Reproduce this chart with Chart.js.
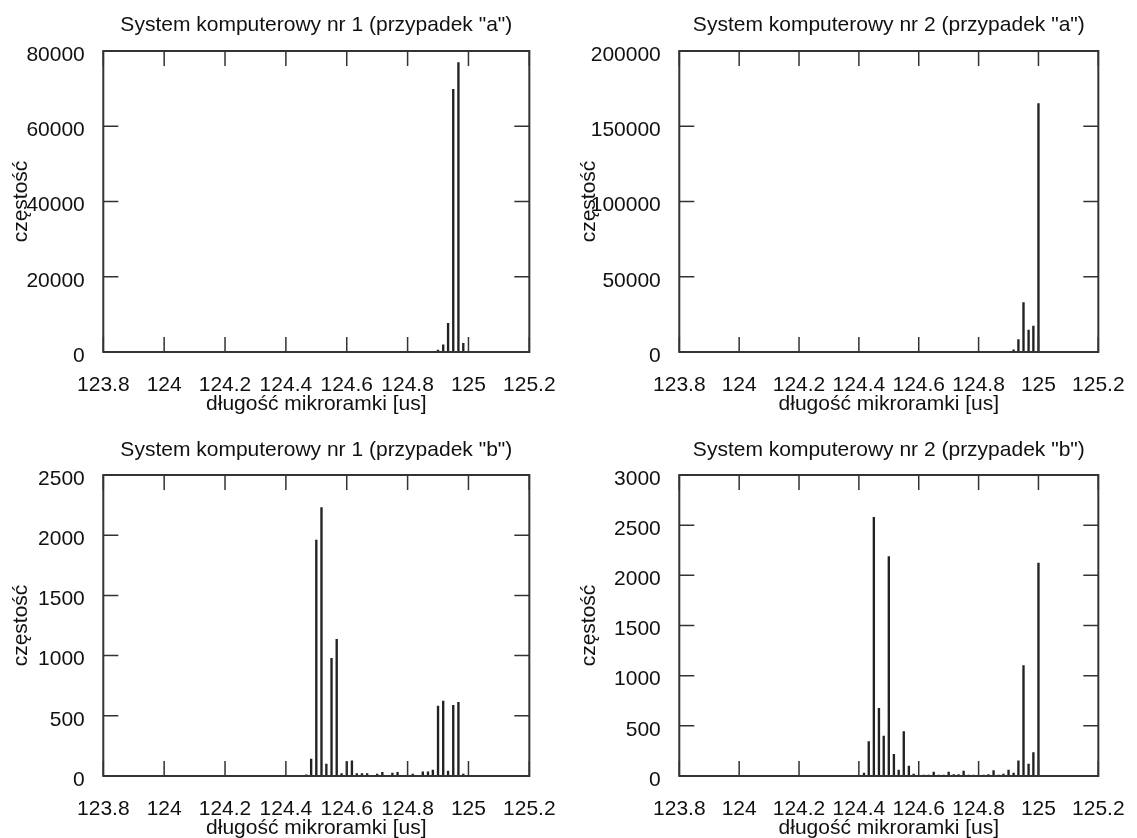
<!DOCTYPE html>
<html><head><meta charset="utf-8">
<script src="https://cdn.jsdelivr.net/npm/chart.js@4/dist/chart.umd.min.js"></script>
<style>
html,body{margin:0;padding:0;background:#fff;}
body{width:1137px;height:838px;position:relative;overflow:hidden;}
.c{position:absolute;}
</style></head><body>
<div class="c" style="left:0;top:0"><canvas id="c1" width="568" height="419"></canvas></div>
<div class="c" style="left:568px;top:0"><canvas id="c2" width="569" height="419"></canvas></div>
<div class="c" style="left:0;top:419px"><canvas id="c3" width="568" height="425"></canvas></div>
<div class="c" style="left:568px;top:419px"><canvas id="c4" width="569" height="425"></canvas></div>
<script>
// ---- data ----
const xTickValues = [123.8, 124, 124.2, 124.4, 124.6, 124.8, 125, 125.2];
const xTickLabels = ['123.8', '124', '124.2', '124.4', '124.6', '124.8', '125', '125.2'];
const xLabel = 'długość mikroramki [us]';
const yLabel = 'częstość';

const title1 = 'System komputerowy nr 1 (przypadek "a")';
const x1 = [124.9, 124.917, 124.933, 124.95, 124.967, 124.983];
const y1 = [500, 1900, 7600, 69800, 76900, 2300];
const yTicks1 = [0, 20000, 40000, 60000, 80000];

const title2 = 'System komputerowy nr 2 (przypadek "a")';
const x2 = [124.917, 124.933, 124.95, 124.967, 124.983, 125.0];
const y2 = [1500, 8300, 32800, 14600, 17300, 165000];
const yTicks2 = [0, 50000, 100000, 150000, 200000];

const title3 = 'System komputerowy nr 1 (przypadek "b")';
const x3 = [124.467, 124.483, 124.5, 124.517, 124.533, 124.55, 124.567, 124.583, 124.6, 124.617,
            124.633, 124.65, 124.667, 124.7, 124.717, 124.75, 124.767, 124.817, 124.85, 124.867,
            124.883, 124.9, 124.917, 124.933, 124.95, 124.967, 124.983];
const y3 = [10, 140, 1960, 2230, 100, 977, 1135, 20, 120, 127,
            20, 20, 20, 15, 30, 25, 30, 15, 35, 35,
            50, 581, 623, 40, 587, 612, 15];
const yTicks3 = [0, 500, 1000, 1500, 2000, 2500];

const title4 = 'System komputerowy nr 2 (przypadek "b")';
const x4 = [124.417, 124.433, 124.45, 124.467, 124.483, 124.5, 124.517, 124.533, 124.55, 124.567,
            124.583, 124.617, 124.633, 124.65, 124.667, 124.683, 124.7, 124.717, 124.733, 124.75,
            124.767, 124.783, 124.817, 124.833, 124.85, 124.867, 124.883, 124.9, 124.917, 124.933,
            124.95, 124.967, 124.983, 125.0];
const y4 = [30, 342, 2578, 675, 399, 2186, 216, 60, 442, 100,
            20, 10, 10, 40, 10, 10, 40, 15, 15, 50,
            10, 10, 10, 15, 55, 10, 20, 60, 30, 150,
            1100, 120, 233, 2123];
const yTicks4 = [0, 500, 1000, 1500, 2000, 2500, 3000];

// ---- rendering ----
const FAMILY = '"Liberation Sans", Arial, Helvetica, sans-serif';
const FONT = {family: FAMILY, size: 21, weight: 'normal', lineHeight: 1.2};
const TXT = '#111';
const TICK_LEN = 15;

const framePlugin = {
  id: 'gnuframe',
  afterDatasetsDraw(chart) {
    const {ctx, chartArea: a, scales} = chart;
    const xs = scales.x, ys = scales.y;
    ctx.save();
    ctx.strokeStyle = '#333';
    ctx.lineWidth = 1.5;
    ctx.beginPath();
    xs.ticks.forEach(t => {
      const p = xs.getPixelForValue(t.value);
      ctx.moveTo(p, a.bottom); ctx.lineTo(p, a.bottom - TICK_LEN);
      ctx.moveTo(p, a.top); ctx.lineTo(p, a.top + TICK_LEN);
    });
    ys.ticks.forEach(t => {
      const p = ys.getPixelForValue(t.value);
      ctx.moveTo(a.left, p); ctx.lineTo(a.left + TICK_LEN, p);
      ctx.moveTo(a.right, p); ctx.lineTo(a.right - TICK_LEN, p);
    });
    ctx.stroke();
    ctx.lineWidth = 2;
    ctx.strokeRect(a.left, a.top, a.right - a.left, a.bottom - a.top);
    ctx.restore();
  }
};

function makeChart(id, title, xs, ys, yTicks, lay) {
  const pts = xs.map((x, i) => ({x: x, y: ys[i]}));
  const xmin = xTickValues[0], xmax = xTickValues[xTickValues.length - 1];
  return new Chart(document.getElementById(id), {
    type: 'bar',
    data: {datasets: [{data: pts, xAxisID: 'x', yAxisID: 'y', backgroundColor: '#222', borderWidth: 0, barThickness: 1.7, grouped: false}]},
    options: {
      responsive: false, animation: false, devicePixelRatio: 1,
      layout: {padding: 0},
      plugins: {legend: {display: false}, tooltip: {enabled: false}, title: {display: false}},
      scales: {
        x: {
          type: 'linear', position: 'bottom', min: xmin, max: xmax, offset: false,
          grid: {display: false, offset: false}, border: {display: false},
          afterBuildTicks: s => { s.ticks = xTickValues.map(v => ({value: v})); },
          ticks: {color: TXT, font: FONT, padding: 12.4, maxRotation: 0, autoSkip: false,
                  callback: (v, i) => xTickLabels[i]},
          title: {display: true, text: xLabel, color: TXT, font: FONT, padding: {top: 0, bottom: lay.xlPad}},
          afterFit: s => { s.height = lay.xH; }
        },
        t: {
          type: 'linear', position: 'top', min: xmin, max: xmax, offset: false,
          grid: {display: false}, border: {display: false}, ticks: {display: false},
          title: {display: true, text: title, color: TXT, font: FONT, padding: {top: lay.tPad, bottom: 0}},
          afterFit: s => { s.height = lay.tH; }
        },
        y: {
          type: 'linear', position: 'left', min: yTicks[0], max: yTicks[yTicks.length - 1],
          grid: {display: false}, border: {display: false},
          afterBuildTicks: s => { s.ticks = yTicks.map(v => ({value: v})); },
          ticks: {color: TXT, font: FONT, padding: 10.5, labelOffset: 4, callback: v => String(v)},
          title: {display: true, text: yLabel, color: TXT, font: FONT, padding: {top: 9, bottom: 0}},
          afterFit: s => { s.width = lay.yW; }
        },
        r: {
          type: 'linear', position: 'right', display: true,
          grid: {display: false}, border: {display: false}, ticks: {display: false},
          afterFit: s => { s.width = lay.rW; }
        }
      }
    },
    plugins: [framePlugin]
  });
}

makeChart('c1', title1, x1, y1, yTicks1, {tH: 51, tPad: 12.9, xH: 67, xlPad: 2.4, yW: 103.3, rW: 26});
makeChart('c2', title2, x2, y2, yTicks2, {tH: 51, tPad: 12.9, xH: 67, xlPad: 2.4, yW: 111.3, rW: 30.7});
makeChart('c3', title3, x3, y3, yTicks3, {tH: 56, tPad: 18.4, xH: 68, xlPad: 3.4, yW: 103.3, rW: 26});
makeChart('c4', title4, x4, y4, yTicks4, {tH: 56, tPad: 18.4, xH: 68, xlPad: 3.4, yW: 111.3, rW: 30.7});
</script>
</body></html>
